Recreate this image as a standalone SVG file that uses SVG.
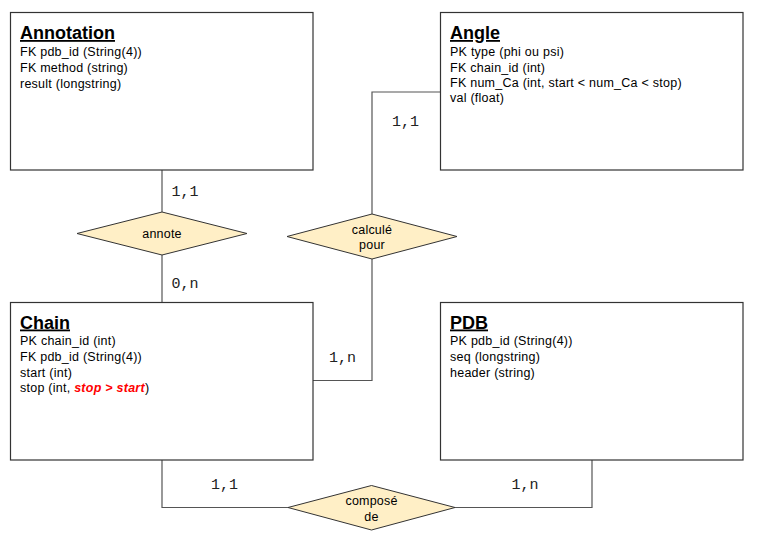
<svg xmlns="http://www.w3.org/2000/svg" width="759" height="538" viewBox="0 0 759 538">
<style>
.box{fill:#fff;stroke:#333;stroke-width:1.2}
.dia{fill:#FFEFC6;stroke:#333;stroke-width:1}
.title{font-family:"Liberation Sans",Arial,sans-serif;font-size:18px;font-weight:bold;text-decoration:underline;fill:#000}
.attr{font-family:"Liberation Sans",Arial,sans-serif;font-size:12.5px;letter-spacing:0.25px;fill:#000}
.red{fill:#f00;font-weight:bold;font-style:italic}
.lbl{font-family:"Liberation Sans",Arial,sans-serif;font-size:12.5px;letter-spacing:0.2px;fill:#000;text-anchor:middle}
.card{font-family:"Liberation Mono","Courier New",monospace;font-size:15px;fill:#222}
.conn{fill:none;stroke:#555;stroke-width:1.2}
</style>
<rect width="759" height="538" fill="#fff"/>
<g id="connectors">
<path class="conn" d="M162,170 V212"/>
<path class="conn" d="M162,255 V302.5"/>
<path class="conn" d="M372,214 V92 H441"/>
<path class="conn" d="M372,259 V380.5 H313"/>
<path class="conn" d="M162,460 V507.5 H288"/>
<path class="conn" d="M455,507.5 H592 V460"/>
</g>
<g id="annotation">
<rect class="box" x="10.5" y="12.5" width="302.5" height="157.5"/>
<text class="title" x="20" y="39">Annotation</text>
<text class="attr" x="20" y="56">FK pdb_id (String(4))</text>
<text class="attr" x="20" y="72">FK method (string)</text>
<text class="attr" x="20" y="87.5">result (longstring)</text>
</g>
<g id="angle">
<rect class="box" x="440.5" y="12.5" width="302.5" height="157.5"/>
<text class="title" x="450" y="39">Angle</text>
<text class="attr" x="450" y="55.5">PK type (phi ou psi)</text>
<text class="attr" x="450" y="71.5">FK chain_id (int)</text>
<text class="attr" x="450" y="87">FK num_Ca (int, start &lt; num_Ca &lt; stop)</text>
<text class="attr" x="450" y="102">val (float)</text>
</g>
<g id="chain">
<rect class="box" x="10.5" y="302.5" width="302.5" height="157.5"/>
<text class="title" x="20" y="328.5">Chain</text>
<text class="attr" x="20" y="345">PK chain_id (int)</text>
<text class="attr" x="20" y="361">FK pdb_id (String(4))</text>
<text class="attr" x="20" y="376.5">start (int)</text>
<text class="attr" x="20" y="392">stop (int, <tspan class="red">stop &gt; start</tspan>)</text>
</g>
<g id="pdb">
<rect class="box" x="440.5" y="302.5" width="302.5" height="157.5"/>
<text class="title" x="450" y="328.5">PDB</text>
<text class="attr" x="450" y="345">PK pdb_id (String(4))</text>
<text class="attr" x="450" y="361">seq (longstring)</text>
<text class="attr" x="450" y="376.5">header (string)</text>
</g>
<g id="annote">
<polygon class="dia" points="162,212 247,233.5 162,255 77,233.5"/>
<text class="lbl" x="162" y="238">annote</text>
</g>
<g id="calcule_pour">
<polygon class="dia" points="372,214 457,236.5 372,259 287,236.5"/>
<text class="lbl" x="372" y="233.5">calculé</text>
<text class="lbl" x="372" y="249">pour</text>
</g>
<g id="compose_de">
<polygon class="dia" points="371.5,485.5 455,507.5 371.5,530 288,507.5"/>
<text class="lbl" x="371.5" y="505">composé</text>
<text class="lbl" x="371.5" y="520.5">de</text>
</g>
<g id="cardinalities">
<text class="card" x="171.5" y="195.5">1,1</text>
<text class="card" x="171.5" y="287.5">0,n</text>
<text class="card" x="392" y="126">1,1</text>
<text class="card" x="329" y="362">1,n</text>
<text class="card" x="211" y="489">1,1</text>
<text class="card" x="511.5" y="489">1,n</text>
</g>
</svg>
